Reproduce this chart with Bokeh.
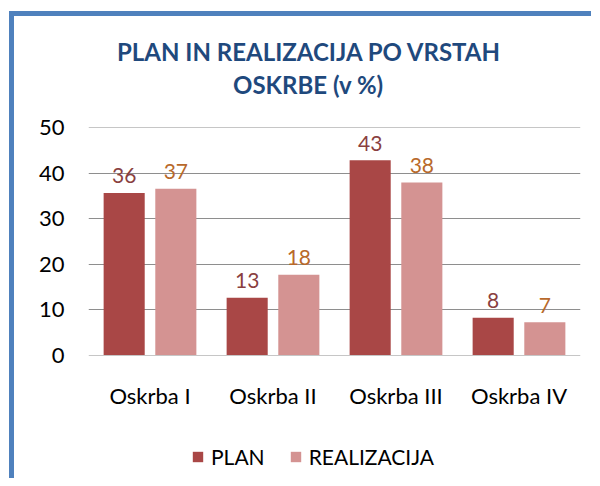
from bokeh.plotting import figure
from bokeh.layouts import column
from bokeh.models import (FactorRange, Range1d, ColumnDataSource, Legend, LegendItem,
                          FixedTicker, Title)
from bokeh.transform import dodge
from bokeh.core.properties import value
from bokeh.embed import file_html
from bokeh.resources import INLINE

# ---- data ----
categories = ["Oskrba I", "Oskrba II", "Oskrba III", "Oskrba IV"]
plan = [35.7, 12.6, 42.9, 8.2]
realizacija = [36.6, 17.7, 38.0, 7.2]
plan_labels = ["36", "13", "43", "8"]
real_labels = ["37", "18", "38", "7"]
y_ticks = [0, 10, 20, 30, 40, 50]
series_names = ["PLAN", "REALIZACIJA"]
title_lines = ["PLAN IN REALIZACIJA PO VRSTAH", "OSKRBE (v %)"]

FONT = "Lato"
PLAN_COLOR = "#A94746"
REAL_COLOR = "#D49392"
PLAN_LABEL_COLOR = "#8A3F3F"
REAL_LABEL_COLOR = "#B8692B"
TITLE_COLOR = "#1F497D"
GRID_COLOR = "#8E8E8E"
BORDER_COLOR = "#4F81BD"
NBSP = "\u00a0"

W, H_MAIN, H_LEG = 577, 400, 62

src = ColumnDataSource(dict(cat=categories, plan=plan, real=realizacija,
                            pl=plan_labels, rl=real_labels))

# ---- main chart ----
p = figure(x_range=FactorRange(factors=categories, range_padding=0),
           y_range=Range1d(-0.1, 50.1),
           width=W, height=H_MAIN, output_backend="svg", toolbar_location=None,
           min_border_left=74, min_border_right=11, min_border_top=111,
           min_border_bottom=H_MAIN - 339)
p.title = None
p.outline_line_color = None
p.background_fill_color = "white"
p.border_fill_color = "white"

p.vbar(x=dodge("cat", -0.21, range=p.x_range), top="plan", width=0.334,
       source=src, fill_color=PLAN_COLOR, line_color=None)
p.vbar(x=dodge("cat", 0.21, range=p.x_range), top="real", width=0.334,
       source=src, fill_color=REAL_COLOR, line_color=None)

p.text(x=dodge("cat", -0.21, range=p.x_range), y="plan", text="pl", source=src,
       text_align="center", text_baseline="alphabetic", y_offset=-17,
       text_font=value(FONT), text_font_size="21px", text_color=PLAN_LABEL_COLOR)
p.text(x=dodge("cat", 0.21, range=p.x_range), y="real", text="rl", source=src,
       text_align="center", text_baseline="alphabetic", y_offset=-17,
       text_font=value(FONT), text_font_size="21px", text_color=REAL_LABEL_COLOR)

p.xgrid.grid_line_color = None
p.ygrid.ticker = FixedTicker(ticks=y_ticks)
p.ygrid.grid_line_color = GRID_COLOR
p.ygrid.grid_line_width = 1

p.yaxis.ticker = FixedTicker(ticks=y_ticks)
for ax in (p.xaxis[0], p.yaxis[0]):
    ax.axis_line_color = None
    ax.major_tick_line_color = None
    ax.minor_tick_line_color = None
    ax.major_tick_out = 0
    ax.major_tick_in = 0
    ax.minor_tick_out = 0
    ax.major_label_text_font = FONT
    ax.major_label_text_color = "black"
p.yaxis.major_label_text_font_size = "22px"
p.xaxis.major_label_text_font_size = "22px"
p.yaxis.major_label_standoff = 24
p.xaxis.major_label_standoff = 26


# ---- title (stacked from the frame outward) ----
def title(text, size, standoff, offset=0, bold=True):
    return Title(text=text, align="left", offset=offset, vertical_align="bottom",
                 standoff=standoff, text_font=FONT, text_font_size=size,
                 text_font_style="bold" if bold else "normal", text_color=TITLE_COLOR)


p.add_layout(title(NBSP, "1px", 26, bold=False), "above")
p.add_layout(title(title_lines[1], "24px", 0, offset=144.5), "above")
p.add_layout(title(title_lines[0], "24px", 4, offset=28.5), "above")
p.add_layout(title(NBSP, "1px", 13, bold=False), "above")

# ---- legend strip (same series, hidden renderers only feed the legend) ----
pl = figure(width=W, height=H_LEG,
            x_range=FactorRange(factors=categories, range_padding=0),
            y_range=Range1d(100, 200),
            x_axis_location=None, y_axis_location=None, min_border=0,
            output_backend="svg", toolbar_location=None)
pl.title = None
pl.outline_line_color = None
pl.grid.visible = False
pl.background_fill_color = "white"
pl.border_fill_color = "white"
k1 = pl.vbar(x=dodge("cat", -0.21, range=pl.x_range), top="plan", width=0.334,
             source=src, fill_color=PLAN_COLOR, line_color=None, visible=False)
k2 = pl.vbar(x=dodge("cat", 0.21, range=pl.x_range), top="real", width=0.334,
             source=src, fill_color=REAL_COLOR, line_color=None, visible=False)

legend = Legend(items=[LegendItem(label=series_names[0], renderers=[k1]),
                       LegendItem(label=series_names[1], renderers=[k2])],
                orientation="horizontal", location=(103, 9), margin=0,
                glyph_width=13, glyph_height=13, label_standoff=7, spacing=24,
                padding=0, border_line_color=None, background_fill_alpha=0,
                inactive_fill_alpha=0, label_text_font=FONT,
                label_text_font_size="21px", label_text_color="black")
pl.add_layout(legend)

layout = column(p, pl, spacing=0,
                styles={"position": "relative", "left": "9px", "top": "11px",
                        "border-left": "5px solid " + BORDER_COLOR,
                        "border-top": "5px solid " + BORDER_COLOR})

open("out.html", "w").write(file_html(layout, INLINE))
